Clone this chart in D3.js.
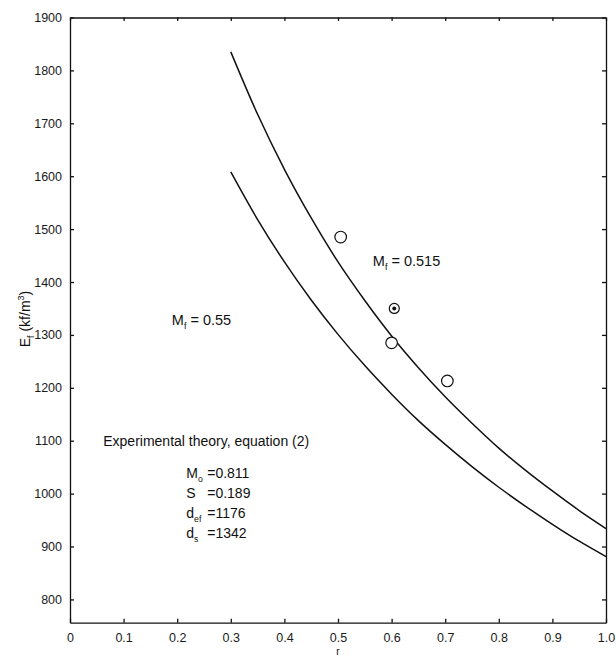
<!DOCTYPE html>
<html>
<head>
<meta charset="utf-8">
<script src="https://cdn.jsdelivr.net/npm/d3@7"></script>
<style>
  html, body { margin: 0; padding: 0; background: #fff; }
  svg { display: block; font-family: "Liberation Sans", Arial, Helvetica, sans-serif; }
  .axis text { font-size: 12.5px; fill: #1a1a1a; }
  .axis path, .axis line { stroke: #111; stroke-width: 1.3; }
  .note { font-size: 14px; fill: #111; }
</style>
</head>
<body>
<svg id="chart" width="616" height="658"></svg>
<script>
// Radial position r along the x axis, tick values and labels
const xTicks = [0, 0.1, 0.2, 0.3, 0.4, 0.5, 0.6, 0.7, 0.8, 0.9, 1.0];
const xTickLabels = ["0", "0.1", "0.2", "0.3", "0.4", "0.5", "0.6", "0.7", "0.8", "0.9", "1.0"];
const yTicks = [800, 900, 1000, 1100, 1200, 1300, 1400, 1500, 1600, 1700, 1800, 1900];

// Theory curves, E_f (kf/m^3) against r
const curveR = [0.30, 0.35, 0.40, 0.45, 0.50, 0.55, 0.60, 0.65, 0.70, 0.75, 0.80, 0.85, 0.90, 0.95, 1.00];
const curveMf515 = [1835, 1717, 1613, 1521, 1438, 1365, 1298, 1238, 1183, 1133, 1086, 1044, 1005, 968, 934];
const curveMf55  = [1608, 1518, 1438, 1366, 1301, 1242, 1188, 1138, 1093, 1051, 1012, 976, 942, 910, 881];

// Measured points
const pointR = [0.505, 0.600, 0.704];
const pointE = [1485, 1285, 1213];
const markedR = [0.605];
const markedE = [1350];

// Model parameters listed on the chart
const paramNames = [["M", "o"], ["S", ""], ["d", "ef"], ["d", "s"]];
const paramValues = ["0.811", "0.189", "1176", "1342"];

const svg = d3.select("#chart");
const x = d3.scaleLinear().domain([0, 1]).range([70, 606]);
const y = d3.scaleLinear().domain([756, 1900]).range([622.7, 17.5]);

// Frame: ticks point inward on all four sides
svg.append("g").attr("class", "axis")
  .attr("transform", `translate(0,${y(756)})`)
  .call(d3.axisBottom(x).tickValues(xTicks).tickSize(-4).tickSizeOuter(0).tickPadding(10)
    .tickFormat((d, i) => xTickLabels[i]));
svg.append("g").attr("class", "axis")
  .attr("transform", `translate(0,${y(1900)})`)
  .call(d3.axisTop(x).tickValues(xTicks).tickSize(-3.5).tickSizeOuter(0).tickFormat(""));
svg.append("g").attr("class", "axis")
  .attr("transform", `translate(${x(0)},0)`)
  .call(d3.axisLeft(y).tickValues(yTicks).tickSize(-4).tickSizeOuter(0).tickPadding(8)
    .tickFormat(d3.format("d")));
svg.append("g").attr("class", "axis")
  .attr("transform", `translate(${x(1)},0)`)
  .call(d3.axisRight(y).tickValues(yTicks).tickSize(-4).tickSizeOuter(0).tickFormat(""));

// Theory curves
const line = d3.line().x(d => x(d[0])).y(d => y(d[1])).curve(d3.curveMonotoneX);
[curveMf515, curveMf55].forEach(series => {
  svg.append("path")
    .datum(curveR.map((r, i) => [r, series[i]]))
    .attr("d", line)
    .attr("fill", "none")
    .attr("stroke", "#111")
    .attr("stroke-width", 1.5);
});

// Open circles
svg.selectAll("circle.pt")
  .data(pointR.map((r, i) => [r, pointE[i]]))
  .join("circle")
  .attr("class", "pt")
  .attr("cx", d => x(d[0])).attr("cy", d => y(d[1]))
  .attr("r", 5.8)
  .attr("fill", "#fff").attr("stroke", "#111").attr("stroke-width", 1.2);

// Circle with centre dot
const marked = markedR.map((r, i) => [r, markedE[i]]);
svg.selectAll("circle.mk")
  .data(marked)
  .join("circle")
  .attr("class", "mk")
  .attr("cx", d => x(d[0])).attr("cy", d => y(d[1]))
  .attr("r", 5)
  .attr("fill", "#fff").attr("stroke", "#111").attr("stroke-width", 1.2);
svg.selectAll("circle.mkdot")
  .data(marked)
  .join("circle")
  .attr("class", "mkdot")
  .attr("cx", d => x(d[0])).attr("cy", d => y(d[1]))
  .attr("r", 2)
  .attr("fill", "#111");

// Text with a subscript
function subText(g, base, sub, rest, size) {
  const t = g.append("text").attr("class", "note").style("font-size", size + "px");
  t.append("tspan").text(base);
  if (sub) {
    t.append("tspan").text(sub).attr("dy", size * 0.28).style("font-size", (size * 0.62) + "px");
    t.append("tspan").text(rest).attr("dy", -size * 0.28);
  } else {
    t.append("tspan").text(rest);
  }
  return t;
}

// Curve labels
subText(svg, "M", "f", " = 0.515", 14.5)
  .attr("x", x(0.565)).attr("y", y(1430));
subText(svg, "M", "f", " = 0.55", 14.5)
  .attr("x", x(0.19)).attr("y", y(1318));

// Method note and parameters
svg.append("text").attr("class", "note")
  .attr("x", x(0.062)).attr("y", y(1090))
  .text("Experimental theory, equation (2)");

paramNames.forEach((p, i) => {
  const by = y(1030) + i * 20;
  subText(svg, p[0], p[1], "", 14).attr("x", x(0.217)).attr("y", by);
  svg.append("text").attr("class", "note")
    .attr("x", x(0.256)).attr("y", by)
    .text("=" + paramValues[i]);
});

// Axis titles
const yt = svg.append("text").attr("class", "note")
  .attr("transform", `translate(30,${y(1330)}) rotate(-90)`)
  .attr("text-anchor", "middle");
yt.append("tspan").text("E");
yt.append("tspan").text("f").attr("dy", 4).style("font-size", "9px");
yt.append("tspan").text("\u00a0(kf/m").attr("dy", -4);
yt.append("tspan").text("3").attr("dy", -6).style("font-size", "9px");
yt.append("tspan").text(")").attr("dy", 6);

svg.append("text").attr("class", "note")
  .attr("x", x(0.5)).attr("y", 655)
  .attr("text-anchor", "middle")
  .style("font-size", "10px")
  .text("r");
</script>
</body>
</html>
